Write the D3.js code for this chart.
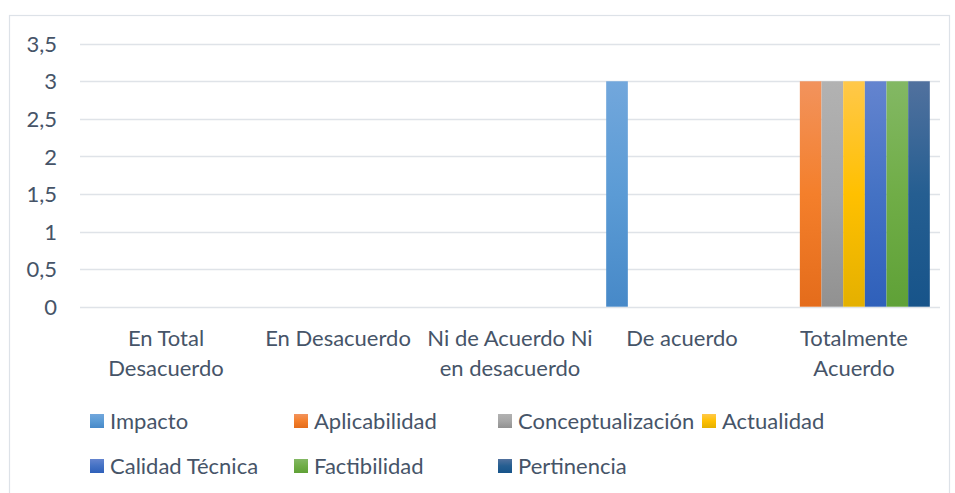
<!DOCTYPE html>
<html><head><meta charset="utf-8">
<script src="https://cdn.jsdelivr.net/npm/d3@7"></script>
<style>body{margin:0;background:#fff}svg{display:block}</style>
</head><body><svg id="c" width="955" height="493"></svg>
<script>
const categories = [["En Total","Desacuerdo"],["En Desacuerdo"],["Ni de Acuerdo Ni","en desacuerdo"],["De acuerdo"],["Totalmente","Acuerdo"]];
const seriesNames = ["Impacto","Aplicabilidad","Conceptualización","Actualidad","Calidad Técnica","Factibilidad","Pertinencia"];
const impacto = [0,0,0,3,0];
const aplicabilidad = [0,0,0,0,3];
const conceptualizacion = [0,0,0,0,3];
const actualidad = [0,0,0,0,3];
const calidadTecnica = [0,0,0,0,3];
const factibilidad = [0,0,0,0,3];
const pertinencia = [0,0,0,0,3];
const yTicks = [0,0.5,1,1.5,2,2.5,3,3.5];
const seriesValues = [impacto,aplicabilidad,conceptualizacion,actualidad,calidadTecnica,factibilidad,pertinencia];
const grads = [
 ["#72a7dc","#5b9bd5","#4789c8"],
 ["#f2935d","#f47f2b","#e46c1b"],
 ["#b2b2b2","#a6a6a6","#919191"],
 ["#ffc84a","#ffc000","#e4b000"],
 ["#6484cf","#4472c4","#2f60ba"],
 ["#83b864","#70ad47","#5fa137"],
 ["#51719e","#255e91","#17548a"]
];
const svg = d3.select("#c");
const font = "Lato, 'Open Sans', sans-serif";
const fs = 22;
const txt = "#465468";
const defs = svg.append("defs");
grads.forEach((g,i)=>{
  const lg = defs.append("linearGradient").attr("id","g"+i).attr("x1",0).attr("y1",0).attr("x2",0).attr("y2",1);
  lg.append("stop").attr("offset","0%").attr("stop-color",g[0]);
  lg.append("stop").attr("offset","50%").attr("stop-color",g[1]);
  lg.append("stop").attr("offset","100%").attr("stop-color",g[2]);
});
svg.append("rect").attr("x",9.5).attr("y",15.5).attr("width",940).attr("height",500)
  .attr("fill","#fff").attr("stroke","#dde2e8").attr("stroke-width",1.2);

const x0 = d3.scaleBand().domain(d3.range(categories.length)).range([80,940]).paddingInner(0).paddingOuter(0);
const x1 = d3.scaleBand().domain(d3.range(seriesNames.length)).range([0,x0.bandwidth()]).paddingInner(0).paddingOuter(0.47);
const y = d3.scaleLinear().domain([0,3.5]).range([306.7,43.7]);

const grid = svg.append("g");
yTicks.forEach(t=>{
  grid.append("line").attr("x1",80).attr("x2",940).attr("y1",Math.round(y(t))+0.5).attr("y2",Math.round(y(t))+0.5)
    .attr("stroke","#dfe3e8").attr("stroke-width",1.5);
});
const yAxis = d3.axisLeft(y).tickValues(yTicks).tickSize(0).tickPadding(0)
  .tickFormat(d=>String(d).replace(".",","));
const ya = svg.append("g").attr("transform","translate(57,0)").call(yAxis);
ya.select(".domain").remove();
ya.selectAll("text").attr("font-family",font).attr("font-size",fs).attr("fill",txt).attr("dy","0.35em");

const groups = svg.append("g").selectAll("g").data(seriesValues).join("g");
groups.each(function(vals,si){
  d3.select(this).selectAll("rect").data(vals).join("rect")
    .attr("x",(v,ci)=>x0(ci)+x1(si))
    .attr("width",x1.bandwidth())
    .attr("y",v=>y(v))
    .attr("height",v=>y(0)-y(v))
    .attr("fill","url(#g"+si+")");
});

const xl = svg.append("g");
categories.forEach((lines,ci)=>{
  const t = xl.append("text").attr("x",x0(ci)+x0.bandwidth()/2).attr("y",346)
    .attr("text-anchor","middle").attr("font-family",font).attr("font-size",fs).attr("fill",txt);
  lines.forEach((l,li)=>t.append("tspan").attr("x",x0(ci)+x0.bandwidth()/2).attr("dy",li?30:0).text(l));
});

const legPos = [[90,421],[294,421],[498,421],[702,421],[90,466],[294,466],[498,466]];
const leg = svg.append("g");
seriesNames.forEach((n,i)=>{
  const [lx,ly] = legPos[i];
  leg.append("rect").attr("x",lx).attr("y",ly-7).attr("width",14).attr("height",14).attr("fill","url(#g"+i+")");
  leg.append("text").attr("x",lx+20).attr("y",ly).attr("dy","0.35em").attr("font-family",font)
    .attr("font-size",fs).attr("fill",txt).text(n);
});
</script></body></html>
